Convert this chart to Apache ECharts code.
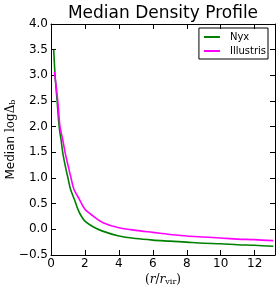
<!DOCTYPE html>
<html><head><meta charset="utf-8">
<script src="https://cdn.jsdelivr.net/npm/echarts@6/dist/echarts.min.js"></script>
<style>html,body{margin:0;padding:0;background:#fff}#c{width:280px;height:289px}</style>
</head><body><div id="c"></div>
<script>
const nyxX = [0.16,0.24,0.36,0.48,0.59,0.69,0.85,1.0,1.15,1.38,1.6,1.8,2.0,2.48,3.0,4.0,5.0,6.0,7.0,8.0,9.0,10.0,11.0,12.0,13.1];
const nyxY = [3.5,3.0,2.5,2.0,1.75,1.5,1.22,1.0,0.78,0.58,0.38,0.25,0.16,0.05,-0.03,-0.13,-0.18,-0.21,-0.23,-0.25,-0.27,-0.28,-0.30,-0.31,-0.33];
const illX = [0.2,0.4,0.53,0.69,0.83,1.0,1.18,1.35,1.68,2.0,2.48,3.07,4.0,5.0,6.0,7.0,8.0,9.0,10.0,11.0,12.0,13.1];
const illY = [3.07,2.5,2.0,1.75,1.5,1.25,1.0,0.78,0.58,0.39,0.26,0.13,0.03,-0.02,-0.06,-0.10,-0.13,-0.15,-0.17,-0.19,-0.20,-0.22];
const seriesNames = ['Nyx','Illustris'];
const xTicks = [0,2,4,6,8,10,12];

const pairs = (xs, ys) => xs.map((x,i)=>[x,ys[i]]);
const fmtY = v => (v<0?'\u2212':'') + Math.abs(v).toFixed(1);
const fmtX = v => xTicks.indexOf(Math.round(v*1000)/1000) >= 0 ? String(v) : '';
const font = 'DejaVu Sans';
const tick = {show:true, inside:true, length:5, lineStyle:{color:'#000', width:1}};
const line = {show:true, onZero:false, lineStyle:{color:'#000', width:1}};

const chart = echarts.init(document.getElementById('c'), null, {renderer:'canvas'});
chart.setOption({
  animation:false,
  backgroundColor:'#fff',
  title:{text:'Median Density Profile', left:158, textAlign:'center', top:0,
    textStyle:{fontFamily:font, fontSize:17, fontWeight:'normal', color:'#000'}},
  legend:{
    data:seriesNames, orient:'vertical', right:12, top:28,
    borderColor:'#000', borderWidth:1, borderRadius:0, padding:[4,2,3,5], itemGap:4,
    itemWidth:16, itemHeight:2, icon:'rect', itemStyle:{borderWidth:0},
    textStyle:{fontFamily:font, fontSize:10, color:'#000', padding:[0,0,0,5]}
  },
  grid:{left:51, right:5, top:24, bottom:34, containLabel:false, outerBoundsMode:'none', show:false},
  xAxis:[{
    type:'value', min:0, max:13.2, interval:2, position:'bottom',
    axisLine:line, axisTick:tick, splitLine:{show:false},
    axisLabel:{fontFamily:font, fontSize:12, color:'#000', margin:3, formatter:fmtX, showMaxLabel:false},
    name:'{p|(}{i|r}{p|/}{i|r}{s|vir}{p|)}', nameLocation:'middle', nameGap:18, nameMoveOverlap:false,
    nameTextStyle:{rich:{
      p:{fontFamily:'DejaVu Serif', fontSize:12, color:'#000'},
      i:{fontFamily:'DejaVu Serif', fontStyle:'italic', fontSize:12, color:'#000'},
      s:{fontFamily:'DejaVu Serif', fontSize:8, color:'#000', padding:[5,0,0,0]}
    }}
  },{
    type:'value', min:0, max:13.2, interval:2, position:'top',
    axisLine:line, axisTick:tick, axisLabel:{show:false}, splitLine:{show:false}
  }],
  yAxis:[{
    type:'value', min:-0.5, max:4, interval:0.5, position:'left',
    axisLine:line, axisTick:tick, splitLine:{show:false},
    axisLabel:{fontFamily:font, fontSize:12, color:'#000', margin:3, formatter:fmtY},
    name:'{a|Median }{b|log}{d|\u0394}{s|b}', nameLocation:'middle', nameGap:34, nameRotate:90, nameMoveOverlap:false,
    nameTextStyle:{rich:{
      a:{fontFamily:font, fontSize:12, color:'#000'},
      b:{fontFamily:'DejaVu Serif', fontSize:12, color:'#000'},
      d:{fontFamily:'DejaVu Serif', fontSize:12, color:'#000'},
      s:{fontFamily:'DejaVu Serif', fontSize:8, color:'#000', padding:[5,0,0,0]}
    }}
  },{
    type:'value', min:-0.5, max:4, interval:0.5, position:'right',
    axisLine:line, axisTick:tick, axisLabel:{show:false}, splitLine:{show:false}
  }],
  series:[
    {name:seriesNames[0], type:'line', data:pairs(nyxX,nyxY), showSymbol:false, smooth:0.3,
     lineStyle:{color:'#008000', width:1.6}, itemStyle:{color:'#008000'}, xAxisIndex:0, yAxisIndex:0},
    {name:seriesNames[1], type:'line', data:pairs(illX,illY), showSymbol:false, smooth:0.3,
     lineStyle:{color:'#ff00ff', width:1.6}, itemStyle:{color:'#ff00ff'}, xAxisIndex:0, yAxisIndex:0}
  ]
});
</script></body></html>
